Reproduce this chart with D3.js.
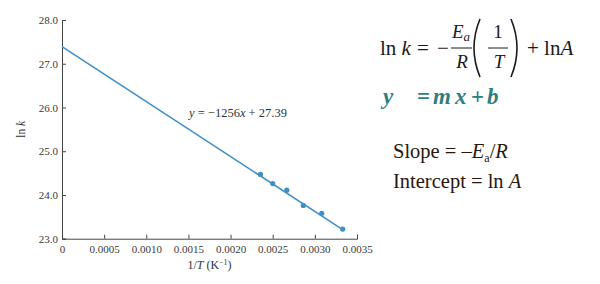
<!DOCTYPE html>
<html>
<head>
<meta charset="utf-8">
<script src="https://cdn.jsdelivr.net/npm/d3@7"></script>
<style>
  body { margin: 0; background: #fff; }
</style>
</head>
<body>
<div id="chart"></div>
<script>
// data
var invT = [0.002355, 0.0025, 0.002667, 0.002863, 0.003082, 0.00333];
var lnk = [24.47, 24.26, 24.11, 23.76, 23.58, 23.22];
var xTicks = [0, 0.0005, 0.0010, 0.0015, 0.0020, 0.0025, 0.0030, 0.0035];
var yTicks = [23.0, 24.0, 25.0, 26.0, 27.0, 28.0];
var fitSlope = -1256, fitIntercept = 27.39;
var fitRange = [0, 0.00333];

var serif = '"Liberation Serif", "Times New Roman", serif';
var width = 600, height = 284;
var svg = d3.select('#chart').append('svg')
    .attr('width', width)
    .attr('height', height)
    .attr('font-family', serif);

var x = d3.scaleLinear().domain([0, 0.0035]).range([62, 357]);
var y = d3.scaleLinear().domain([23, 28]).range([238.7, 20]);

var axisColor = '#444';

// x axis, ticks point inward
var xAxis = svg.append('g')
    .attr('transform', 'translate(0,' + y(23) + ')')
    .call(d3.axisBottom(x).tickValues(xTicks).tickSize(-4).tickPadding(9)
        .tickFormat((d) => d === 0 ? '0' : d3.format('.4f')(d)));
// y axis
var yAxis = svg.append('g')
    .attr('transform', 'translate(' + x(0) + ',0)')
    .call(d3.axisLeft(y).tickValues(yTicks).tickSize(-4).tickPadding(4)
        .tickFormat(d3.format('.1f')));

[xAxis, yAxis].forEach(function(a) {
    a.attr('font-family', serif);
    a.select('.domain').attr('stroke', axisColor).attr('stroke-width', 1);
    a.selectAll('.tick line').attr('stroke', axisColor);
    a.selectAll('.tick text').attr('fill', '#3a3a3a').style('font-size', '11px');
});
xAxis.selectAll('.tick text').attr('dy', '0.5em');

// axis titles
svg.append('text')
    .attr('transform', 'translate(25,' + y(25.5) + ') rotate(-90)')
    .attr('text-anchor', 'middle')
    .attr('fill', '#333')
    .style('font-size', '11.5px')
    .html('ln <tspan font-style="italic">k</tspan>');
svg.append('text')
    .attr('x', x(0.00175)).attr('y', 269)
    .attr('text-anchor', 'middle')
    .attr('fill', '#333')
    .style('font-size', '12px')
    .html('1/<tspan font-style="italic">T</tspan> (K<tspan dy="-4" font-size="8px">\u22121</tspan><tspan dy="4">)</tspan>');

// fitted line
var lineColor = '#3f8fc7';
svg.append('line')
    .attr('x1', x(fitRange[0])).attr('y1', y(fitIntercept + fitSlope * fitRange[0]))
    .attr('x2', x(fitRange[1])).attr('y2', y(fitIntercept + fitSlope * fitRange[1]))
    .attr('stroke', lineColor)
    .attr('stroke-width', 1.6);

svg.selectAll('circle.pt')
    .data(invT)
    .enter()
    .append('circle')
    .attr('class', 'pt')
    .attr('cx', (d) => x(d))
    .attr('cy', (d, i) => y(lnk[i]))
    .attr('r', 2.6)
    .attr('fill', lineColor);

svg.append('text')
    .attr('x', 189).attr('y', 117)
    .attr('fill', '#333')
    .style('font-size', '12.5px')
    .html('<tspan font-style="italic">y</tspan> = \u22121256<tspan font-style="italic">x</tspan> + 27.39');

// formulas on the right
var f = svg.append('g').attr('fill', '#1a1a1a').style('font-size', '21px');
f.append('text').attr('x', 380).attr('y', 55)
    .html('ln <tspan font-style="italic">k</tspan>');
f.append('text').attr('x', 417).attr('y', 55).text('=');
f.append('text').attr('x', 437).attr('y', 55).text('\u2212');
// Ea / R
f.append('text').attr('x', 461).attr('y', 38).attr('text-anchor', 'middle').style('font-size', '19px')
    .html('<tspan font-style="italic">E</tspan><tspan font-style="italic" font-size="13px" dy="3">a</tspan>');
f.append('line').attr('x1', 451).attr('x2', 472).attr('y1', 48).attr('y2', 48)
    .attr('stroke', '#1a1a1a').attr('stroke-width', 1);
f.append('text').attr('x', 462).attr('y', 68).attr('text-anchor', 'middle').style('font-size', '19px')
    .attr('font-style', 'italic').text('R');
// ( 1/T )
f.append('path').attr('d', 'M480,19 Q468,48 480,77').attr('fill', 'none')
    .attr('stroke', '#1a1a1a').attr('stroke-width', 1.6);
f.append('text').attr('x', 498).attr('y', 38).attr('text-anchor', 'middle').style('font-size', '19px').text('1');
f.append('line').attr('x1', 488).attr('x2', 508).attr('y1', 48).attr('y2', 48)
    .attr('stroke', '#1a1a1a').attr('stroke-width', 1);
f.append('text').attr('x', 499).attr('y', 68).attr('text-anchor', 'middle').style('font-size', '19px')
    .attr('font-style', 'italic').text('T');
f.append('path').attr('d', 'M511,19 Q523,48 511,77').attr('fill', 'none')
    .attr('stroke', '#1a1a1a').attr('stroke-width', 1.6);
f.append('text').attr('x', 527).attr('y', 55)
    .html('+ ln<tspan font-style="italic">A</tspan>');

var teal = '#2c8083';
var g2 = svg.append('g').attr('fill', teal).style('font-size', '23px')
    .attr('font-weight', 'bold').attr('font-style', 'italic');
g2.append('text').attr('x', 383).attr('y', 104).text('y');
g2.append('text').attr('x', 417).attr('y', 104).attr('font-style', 'normal').text('=');
g2.append('text').attr('x', 433).attr('y', 104).text('m');
g2.append('text').attr('x', 455).attr('y', 104).text('x');
g2.append('text').attr('x', 471).attr('y', 104).attr('font-style', 'normal').text('+');
g2.append('text').attr('x', 487).attr('y', 104).text('b');

var brown = '#2a170c';
svg.append('text').attr('x', 393).attr('y', 158).attr('fill', brown).style('font-size', '20.5px')
    .html('Slope = \u2013<tspan font-style="italic">E</tspan><tspan font-size="12px" dy="4">a</tspan><tspan dy="-4">/</tspan><tspan font-style="italic">R</tspan>');
svg.append('text').attr('x', 393).attr('y', 188).attr('fill', brown).style('font-size', '20.5px')
    .html('Intercept = ln <tspan font-style="italic">A</tspan>');

// make sure every label uses the serif face
svg.selectAll('text').style('font-family', serif);
</script>
</body>
</html>
